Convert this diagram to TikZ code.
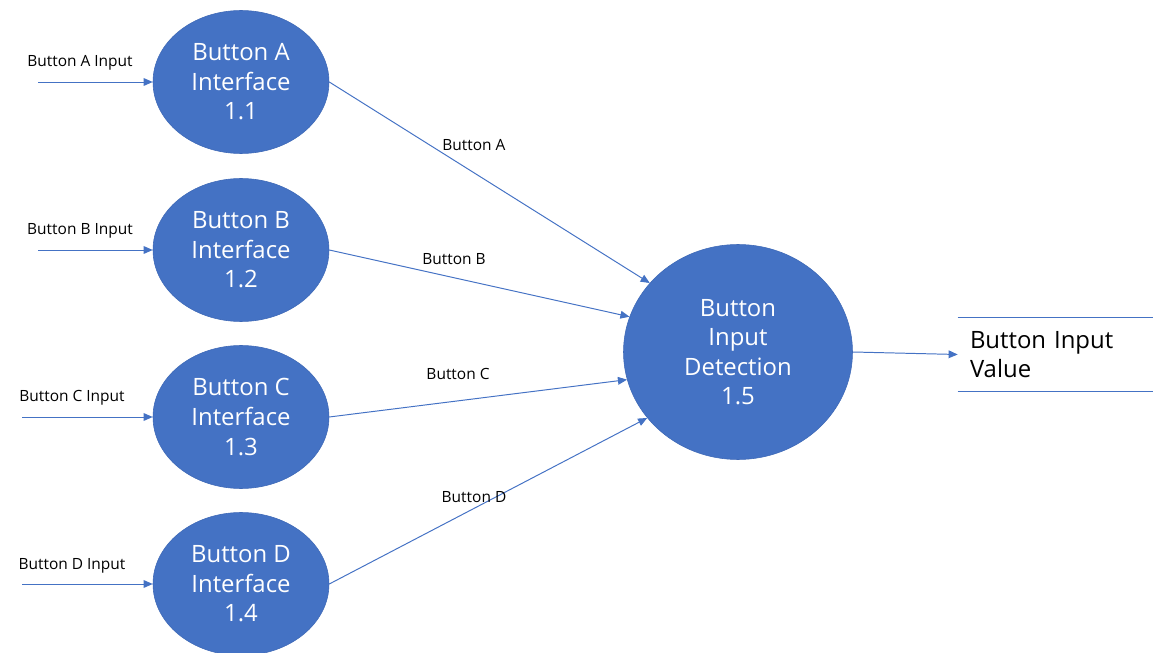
\documentclass[tikz,border=0pt]{standalone}
\usepackage{fontspec}
\setmainfont{Open Sans}
\usetikzlibrary{shapes.geometric, positioning, arrows.meta}

\definecolor{dfdblue}{HTML}{4472C4}
\definecolor{dfdedge}{HTML}{3D68B6}

\begin{document}
\begin{tikzpicture}[
    process/.style={
        ellipse,
        draw=dfdedge,
        fill=dfdblue,
        text=white,
        align=center,
        minimum width=4.4cm,
        minimum height=3.575cm,
        inner sep=0pt,
        font=\fontsize{17}{21}\selectfont
    },
    bigprocess/.style={
        process,
        minimum width=5.725cm,
        minimum height=5.375cm
    },
    store/.style={
        align=left,
        text width=4.275cm,
        inner xsep=0.3cm,
        minimum height=1.825cm,
        font=\fontsize{17}{21}\selectfont
    },
    flowlabel/.style={
        font=\fontsize{11}{13}\selectfont
    },
    flow/.style={
        draw=dfdblue,
        line width=0.7pt,
        -{Triangle[length=6.5pt,width=5.5pt]}
    }
]

\useasboundingbox (0, 0) rectangle (28.825, 16.3);

% ========== PROCESSES ==========

\node[process] (ifa) at (6.025, 14.25) {Button A\\Interface\\1.1};
\node[process] (ifb) at (6.025, 10.05) {Button B\\Interface\\1.2};
\node[process] (ifc) at (6.025, 5.875) {Button C\\Interface\\1.3};
\node[process] (ifd) at (6.025, 1.7) {Button D\\Interface\\1.4};

\node[bigprocess] (detect) at (18.45, 7.5) {Button\\Input\\Detection\\1.5};

% ========== DATA STORE ==========

\node[store] (value) at (26.3875, 7.4375) {Button Input\\Value};
\draw[dfdblue, line width=0.7pt] (value.north west) -- (value.north east);
\draw[dfdblue, line width=0.7pt] (value.south west) -- (value.south east);

% ========== EXTERNAL INPUTS ==========

\coordinate (ina) at (0.95, 14.25);
\coordinate (inb) at (0.95, 10.05);
\coordinate (inc) at (0.55, 5.875);
\coordinate (ind) at (0.55, 1.7);

\draw[flow] (ina) -- (ifa.west);
\draw[flow] (inb) -- (ifb.west);
\draw[flow] (inc) -- (ifc.west);
\draw[flow] (ind) -- (ifd.west);

\node[flowlabel] (lina) at (2.0, 14.725) {Button A Input};
\node[flowlabel] (linb) at (2.0, 10.525) {Button B Input};
\node[flowlabel] (linc) at (1.8, 6.35) {Button C Input};
\node[flowlabel] (lind) at (1.8, 2.15) {Button D Input};

% ========== FLOWS TO DETECTION ==========

\draw[flow] (ifa.east) -- (detect.142.7);
\draw[flow] (ifb.east) -- (detect.162.4);
\draw[flow] (ifc.east) -- (detect.194);
\draw[flow] (ifd.east) -- (detect.216.6);

\node[flowlabel] (lfa) at (11.85, 12.675) {Button A};
\node[flowlabel] (lfb) at (11.35, 9.825) {Button B};
\node[flowlabel] (lfc) at (11.45, 6.95) {Button C};
\node[flowlabel] (lfd) at (11.85, 3.875) {Button D};

% ========== OUTPUT ==========

\draw[flow] (detect.east) -- (value.west);

\end{tikzpicture}
\end{document}
